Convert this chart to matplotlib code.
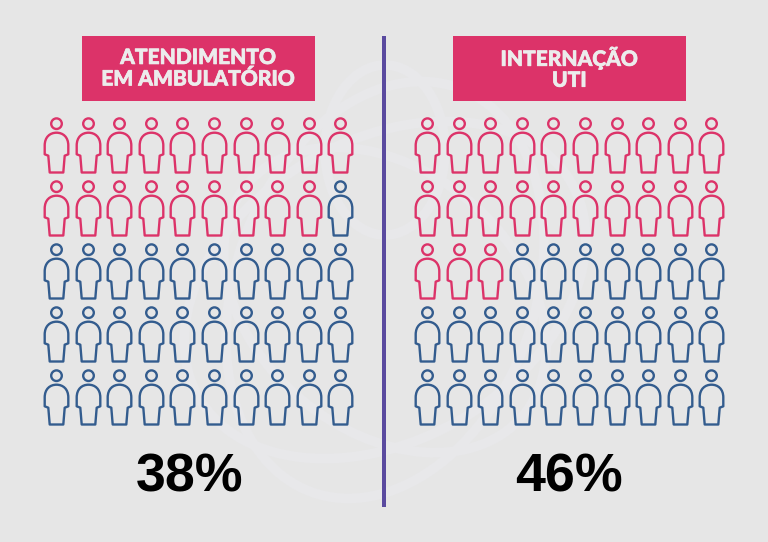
import numpy as np
import matplotlib
matplotlib.use("Agg")
import matplotlib.pyplot as plt
import matplotlib.patheffects as pe
from matplotlib.path import Path
from matplotlib.patches import Rectangle, Ellipse

titles = ["ATENDIMENTO\nEM AMBULATÓRIO", "INTERNAÇÃO\nUTI"]
percents = [38, 46]
pink_people = [19, 23]
n_rows, n_cols = 5, 10
PINK, BLUE, PURPLE, BG, SWIRL = "#DC3369", "#335C8E", "#5A4A9F", "#E6E6E6", "#E8E8EA"

W, H = 768, 542
fig = plt.figure(figsize=(W / 100, H / 100), dpi=100, facecolor=BG)
ax = fig.add_axes([0, 0, 1, 1])
ax.set_xlim(0, W); ax.set_ylim(H, 0); ax.axis("off")

# faint watermark
for (cx, cy, w, h, a) in [(385, 290, 300, 430, 20), (385, 290, 430, 300, -30),
                          (385, 300, 260, 360, -50), (385, 150, 120, 170, 0)]:
    ax.add_patch(Ellipse((cx, cy), w, h, angle=a, fill=False, ec=SWIRL, lw=7, zorder=0))

def person():
    k = 0.5523
    r = 5.3; hy = 21.8
    verts = [(r, hy), (r, hy + k*r), (k*r, hy + r), (0, hy + r), (-k*r, hy + r), (-r, hy + k*r), (-r, hy),
             (-r, hy - k*r), (-k*r, hy - r), (0, hy - r), (k*r, hy - r), (r, hy - k*r), (r, hy), (r, hy)]
    codes = [Path.MOVETO] + [Path.CURVE4]*12 + [Path.CLOSEPOLY]
    body = [(0, 12.8), (6.5, 12.8), (11.8, 8.5), (11.8, 0), (11.8, -8.8), (8.2, -10.2), (6.8, -27),
            (-6.8, -27), (-8.2, -10.2), (-11.8, -8.8), (-11.8, 0), (-11.8, 8.5), (-6.5, 12.8), (0, 12.8), (0, 12.8)]
    bcodes = [Path.MOVETO, Path.CURVE4, Path.CURVE4, Path.CURVE4, Path.LINETO, Path.LINETO, Path.LINETO,
              Path.LINETO, Path.LINETO, Path.LINETO, Path.LINETO, Path.CURVE4, Path.CURVE4, Path.CURVE4, Path.CLOSEPOLY]
    return Path(verts + body, codes + bcodes)

marker = person()
ms = 2 * np.abs(marker.vertices).max() * 0.72

panels = [(56.2, 81.7, 190), (427.2, 452.7, 569)]
for (x0, bx, px), title, pct, pk in zip(panels, titles, percents, pink_people):
    ax.add_patch(Rectangle((bx, 35.7), 233.5, 65.5, fc=PINK, ec="none"))
    ax.text(bx + 116.7, 68.2, title, color="#ECECEC", family="Lato", weight="black", size=15.1,
            ha="center", va="center", linespacing=1.12,
            path_effects=[pe.withStroke(linewidth=0.5, foreground="#ECECEC")])
    for i in range(n_rows * n_cols):
        r, c = divmod(i, n_cols)
        ax.plot(x0 + c * 31.55, 144.6 + r * 63.0, marker=marker, ms=ms, mfc="none",
                mec=PINK if i < pk else BLUE, mew=1.7, ls="none", zorder=3)
    ax.text(px, 478, f"{pct}%", family="Liberation Sans", weight="bold", size=38.7, color="black",
            ha="center", va="center")

ax.add_patch(Rectangle((381.8, 35.7), 4.3, 471, fc=PURPLE, ec="none"))
fig.savefig("out.png", dpi=100, facecolor=BG)
